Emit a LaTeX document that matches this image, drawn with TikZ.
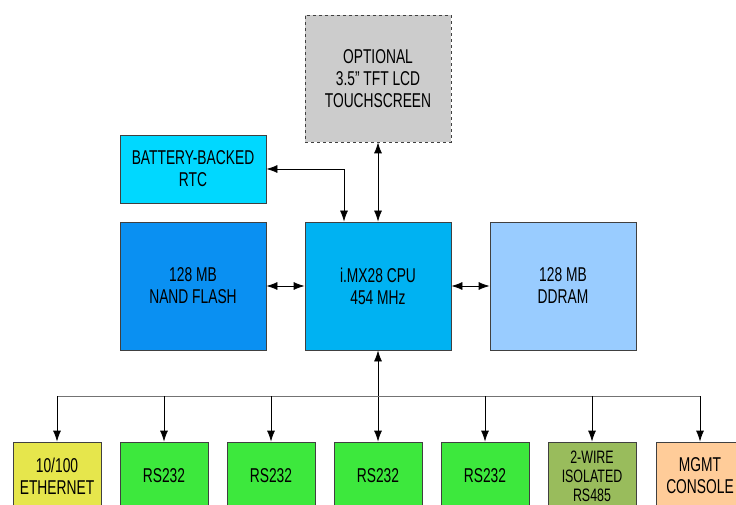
\documentclass[tikz,border=0pt]{standalone}
\usepackage{fontspec}
\setmainfont{Liberation Sans}[FakeStretch=0.69]
\usetikzlibrary{positioning, arrows.meta}

\definecolor{tftgray}{HTML}{CCCCCC}
\definecolor{rtccyan}{HTML}{00D8FF}
\definecolor{nandblue}{HTML}{0A90F2}
\definecolor{cpublue}{HTML}{00B2F2}
\definecolor{ramblue}{HTML}{99CCFF}
\definecolor{ethyellow}{HTML}{E6E64C}
\definecolor{rsgreen}{HTML}{3DE83D}
\definecolor{olivegreen}{HTML}{99BC5C}
\definecolor{peach}{HTML}{FFCC99}

\tikzset{
  blk/.style={draw=black!75, line width=0.8pt, align=center, inner sep=0pt,
    font=\fontsize{20}{22}\selectfont},
  bigblk/.style={blk, minimum width=146pt, minimum height=128pt},
  ioblk/.style={blk, minimum width=88pt, minimum height=68pt},
}

\begin{document}
\begin{tikzpicture}[x=1pt, y=-1pt, >={Latex[length=11pt,width=8pt]}, line width=0.8pt]
        \useasboundingbox (0,0) rectangle (736,505);
        \clip (0,0) rectangle (736,505);

        \node[blk, dashed, fill=tftgray, minimum width=146pt, minimum height=127pt] (tft) at (378, 78.5) {OPTIONAL\\3.5'' TFT LCD\\TOUCHSCREEN};
        \node[blk, fill=rtccyan, minimum width=146pt, minimum height=68pt] (rtc) at (193, 169) {BATTERY-BACKED\\RTC};
        \node[bigblk, fill=nandblue] (nand) at (193, 286) {128 MB\\NAND FLASH};
        \node[bigblk, fill=cpublue] (cpu) at (378, 286) {i.MX28 CPU\\454 MHz};
        \node[bigblk, fill=ramblue] (ddram) at (563, 286) {128 MB\\DDRAM};

        \node[ioblk, fill=ethyellow] (eth) at (57, 476) {10/100\\ETHERNET};
        \node[ioblk, fill=rsgreen] (rsa) at (164, 476) {RS232};
        \node[ioblk, fill=rsgreen] (rsb) at (271, 476) {RS232};
        \node[ioblk, fill=rsgreen] (rsc) at (378, 476) {RS232};
        \node[ioblk, fill=rsgreen] (rsd) at (485, 476) {RS232};
        \node[ioblk, fill=olivegreen, font=\fontsize{18}{19}\selectfont] (rs485) at (592, 476) {2-WIRE\\ISOLATED\\RS485};
        \node[ioblk, fill=peach] (mgmt) at (700, 476) {MGMT\\CONSOLE};

        \coordinate (bus) at (378, 396);

        \draw[<->] (rtc) -| ([xshift=-34pt]cpu.north);
        \draw[<->] (tft) -- (cpu);
        \draw[<->] (nand) -- (cpu);
        \draw[<->] (cpu) -- (ddram);
        \draw[<->] (cpu) -- (rsc);

        \draw[black!55] (eth |- bus) -- (mgmt |- bus);
        \foreach \n in {eth, rsa, rsb, rsd, rs485, mgmt}
            \draw[->] (\n |- bus) -- (\n);
    \end{tikzpicture}
\end{document}
